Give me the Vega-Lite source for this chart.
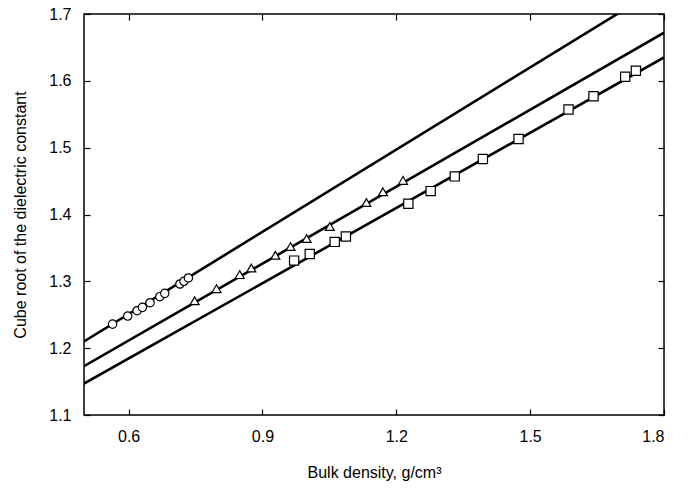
{
  "$schema": "https://vega.github.io/schema/vega-lite/v6.json",
  "width": 580,
  "height": 401,
  "autosize": {"type": "none"},
  "padding": {"left": 84, "top": 14, "right": 28, "bottom": 77},
  "background": "white",
  "config": {
    "view": {"stroke": "black", "strokeWidth": 1.5},
    "font": "Liberation Sans",
    "axis": {
      "grid": false,
      "domain": false,
      "tickColor": "black",
      "tickWidth": 1.2,
      "tickSize": -6,
      "labelColor": "black",
      "labelFont": "Liberation Sans",
      "labelFontSize": 16,
      "titleFont": "Liberation Sans",
      "titleFontSize": 16,
      "titleFontWeight": "normal",
      "titleColor": "black"
    }
  },
  "datasets": {
    "lines": [
      {"series": "A", "d": 0.5, "c": 1.21},
      {"series": "A", "d": 1.8, "c": 1.743},
      {"series": "B", "d": 0.5, "c": 1.173},
      {"series": "B", "d": 1.8, "c": 1.672},
      {"series": "C", "d": 0.5, "c": 1.147},
      {"series": "C", "d": 1.8, "c": 1.635}
    ],
    "circles": [
      {"d": 0.564, "c": 1.236},
      {"d": 0.598, "c": 1.248},
      {"d": 0.619, "c": 1.256},
      {"d": 0.631, "c": 1.261},
      {"d": 0.648, "c": 1.268},
      {"d": 0.670, "c": 1.277},
      {"d": 0.681, "c": 1.282},
      {"d": 0.715, "c": 1.296},
      {"d": 0.724, "c": 1.300},
      {"d": 0.734, "c": 1.305}
    ],
    "triangles": [
      {"d": 0.748, "c": 1.271},
      {"d": 0.797, "c": 1.289},
      {"d": 0.849, "c": 1.310},
      {"d": 0.875, "c": 1.320},
      {"d": 0.929, "c": 1.339},
      {"d": 0.963, "c": 1.352},
      {"d": 0.999, "c": 1.364},
      {"d": 1.051, "c": 1.382},
      {"d": 1.133, "c": 1.418},
      {"d": 1.170, "c": 1.434},
      {"d": 1.215, "c": 1.451}
    ],
    "squares": [
      {"d": 0.971, "c": 1.331},
      {"d": 1.006, "c": 1.341},
      {"d": 1.062, "c": 1.359},
      {"d": 1.087, "c": 1.367},
      {"d": 1.227, "c": 1.416},
      {"d": 1.277, "c": 1.435},
      {"d": 1.331, "c": 1.457},
      {"d": 1.394, "c": 1.483},
      {"d": 1.474, "c": 1.513},
      {"d": 1.586, "c": 1.557},
      {"d": 1.642, "c": 1.577},
      {"d": 1.713, "c": 1.606},
      {"d": 1.737, "c": 1.615}
    ]
  },
  "layer": [
    {
      "data": {"name": "lines"},
      "mark": {"type": "line", "color": "black", "strokeWidth": 2.6, "clip": true},
      "encoding": {
        "x": {"field": "d", "type": "quantitative", "scale": {"domain": [0.5, 1.8], "nice": false, "zero": false},
              "axis": {"values": [0.6, 0.9, 1.2, 1.5, 1.8], "format": ".1f", "labelPadding": 19, "title": "Bulk density, g/cm³", "titlePadding": 20}},
        "y": {"field": "c", "type": "quantitative", "scale": {"domain": [1.1, 1.7], "nice": false, "zero": false},
              "axis": {"values": [1.1, 1.2, 1.3, 1.4, 1.5, 1.6, 1.7], "format": ".1f", "labelPadding": 19, "title": "Cube root of the dielectric constant", "titlePadding": 20}},
        "detail": {"field": "series", "type": "nominal"}
      }
    },
    {
      "data": {"name": "lines"},
      "mark": {"type": "point", "opacity": 0},
      "encoding": {
        "x": {"field": "d", "type": "quantitative", "axis": {"values": [0.6, 0.9, 1.2, 1.5, 1.8], "labelOpacity": 0, "title": null, "ticks": true, "tickSize": -6, "tickColor": "black", "tickWidth": 1.2, "tickOpacity": 1, "zindex": 1}},
        "y": {"field": "c", "type": "quantitative", "axis": {"values": [1.1, 1.2, 1.3, 1.4, 1.5, 1.6, 1.7], "labelOpacity": 0, "title": null, "ticks": true, "tickSize": -6, "tickColor": "black", "tickWidth": 1.2, "tickOpacity": 1, "zindex": 1}}
      }
    },
    {
      "data": {"name": "circles"},
      "mark": {"type": "point", "shape": "circle", "filled": true, "fill": "white", "stroke": "black", "strokeWidth": 1.2, "size": 70, "opacity": 1},
      "encoding": {
        "x": {"field": "d", "type": "quantitative", "axis": null},
        "y": {"field": "c", "type": "quantitative", "axis": null}
      }
    },
    {
      "data": {"name": "triangles"},
      "mark": {"type": "point", "shape": "triangle-up", "filled": true, "fill": "white", "stroke": "black", "strokeWidth": 1.2, "size": 80, "opacity": 1},
      "encoding": {
        "x": {"field": "d", "type": "quantitative", "axis": null},
        "y": {"field": "c", "type": "quantitative", "axis": null}
      }
    },
    {
      "data": {"name": "squares"},
      "mark": {"type": "point", "shape": "square", "filled": true, "fill": "white", "stroke": "black", "strokeWidth": 1.2, "size": 85, "opacity": 1},
      "encoding": {
        "x": {"field": "d", "type": "quantitative", "axis": null},
        "y": {"field": "c", "type": "quantitative", "axis": null}
      }
    }
  ],
  "resolve": {"axis": {"x": "independent", "y": "independent"}}
}
